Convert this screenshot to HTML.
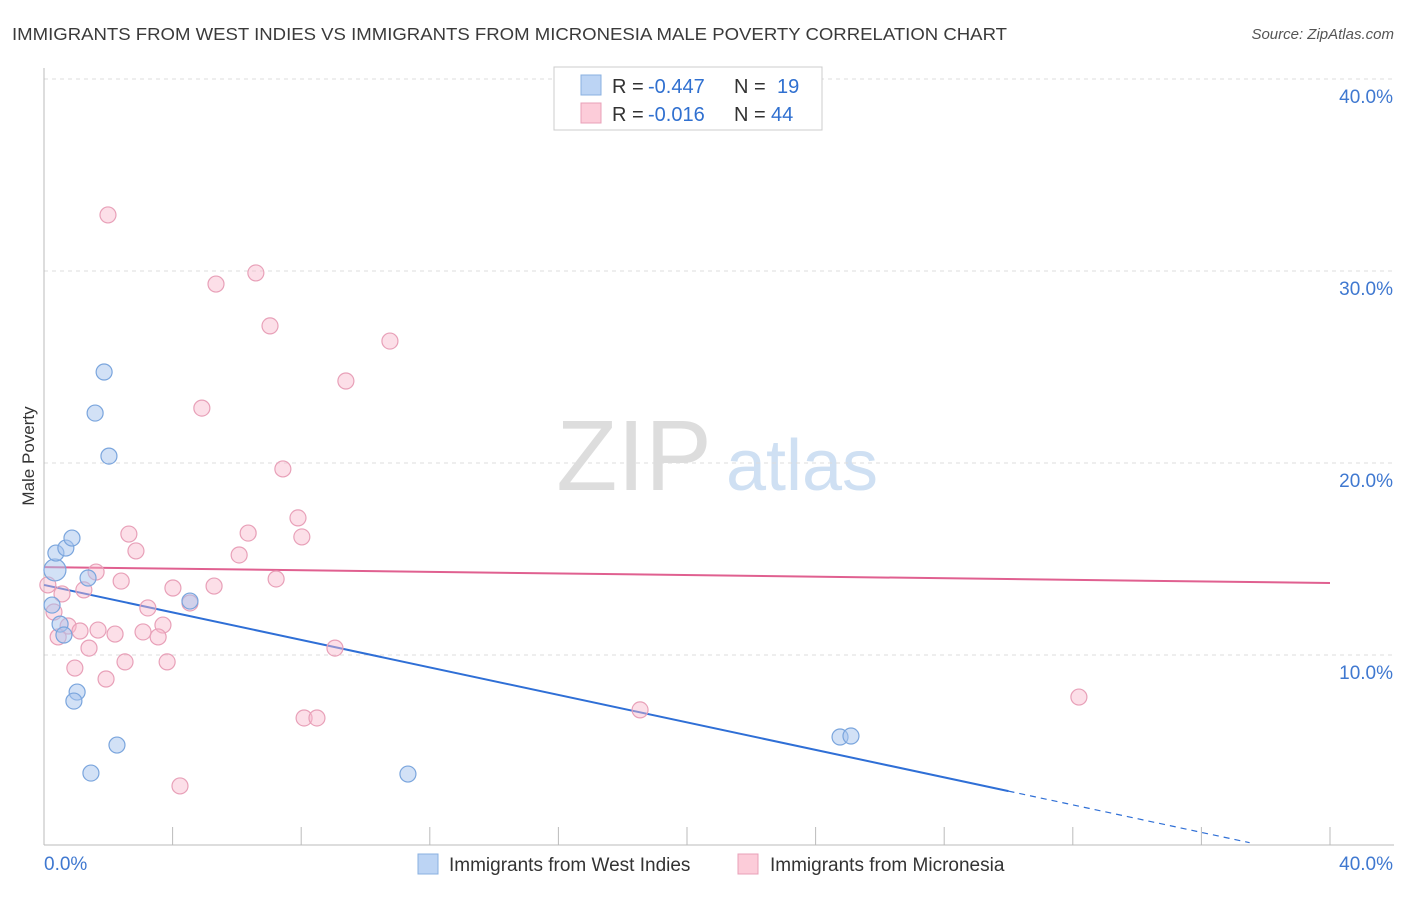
<!DOCTYPE html>
<html><head><meta charset="utf-8"><style>
body{margin:0;background:#fff;font-family:"Liberation Sans",sans-serif;}
svg text{font-family:"Liberation Sans",sans-serif;}
</style></head><body>
<svg id="chart" width="1406" height="892" xmlns="http://www.w3.org/2000/svg">
<text x="12" y="40" font-size="17.5" fill="#3a3a3a" textLength="995" lengthAdjust="spacingAndGlyphs">IMMIGRANTS FROM WEST INDIES VS IMMIGRANTS FROM MICRONESIA MALE POVERTY CORRELATION CHART</text>
<text x="1394" y="39" font-size="15" fill="#555" font-style="italic" text-anchor="end">Source: ZipAtlas.com</text>
<text transform="translate(34,456) rotate(-90)" font-size="17" fill="#333" text-anchor="middle">Male Poverty</text>
<g>
<text x="634" y="490" font-size="100" fill="#ddd" text-anchor="middle" font-family="Liberation Serif">ZIP</text>
<text x="802" y="490" font-size="72" fill="#cfe0f3" text-anchor="middle">atlas</text>
</g>
<g id="grid"></g><g id="axes"></g><g id="trends"></g><g id="points"></g>
<g>
<rect x="554" y="67" width="268" height="63" fill="#fff" stroke="#ccc"/>
<rect x="581" y="75" width="20" height="20" fill="#bcd4f4" stroke="#8ab0e0"/>
<rect x="581" y="103" width="20" height="20" fill="#fcccd9" stroke="#e8a0b8"/>
<text x="612" y="93" font-size="20" fill="#333">R =</text>
<text x="648" y="93" font-size="20" fill="#3070d0">-0.447</text>
<text x="734" y="93" font-size="20" fill="#333">N =</text>
<text x="777" y="93" font-size="20" fill="#3070d0">19</text>
<text x="612" y="121" font-size="20" fill="#333">R =</text>
<text x="648" y="121" font-size="20" fill="#3070d0">-0.016</text>
<text x="734" y="121" font-size="20" fill="#333">N =</text>
<text x="771" y="121" font-size="20" fill="#3070d0">44</text>
</g>
<g>
<rect x="418" y="854" width="20" height="20" fill="#bcd4f4" stroke="#8ab0e0"/>
<text x="449" y="871" font-size="19" fill="#333">Immigrants from West Indies</text>
<rect x="738" y="854" width="20" height="20" fill="#fcccd9" stroke="#e8a0b8"/>
<text x="770" y="871" font-size="19" fill="#333">Immigrants from Micronesia</text>
</g>
</svg>
<script>
const blueX=[0.34,0.37,0.68,0.87,1.37,1.87,1.59,2.02,0.25,0.50,0.62,1.03,0.93,2.27,1.46,4.54,11.32,24.76,25.10];
const blueY=[14.43,15.31,15.57,16.09,14.01,24.74,22.60,20.36,12.60,11.61,11.04,8.07,7.60,5.31,3.85,12.81,3.80,5.73,5.78];
const pinkX=[1.99,5.35,6.59,7.03,10.76,9.39,4.91,7.43,7.90,8.02,2.64,6.35,2.86,6.07,1.62,2.40,1.24,4.01,5.29,7.22,0.12,0.56,4.54,3.23,0.31,3.70,0.75,1.68,1.12,2.21,3.08,3.55,0.44,1.40,9.05,2.52,3.83,0.96,1.93,8.09,8.49,18.54,32.19,4.23];
const pinkY=[32.92,29.32,29.90,27.14,26.35,24.27,22.86,19.69,17.14,16.15,16.30,16.35,15.42,15.21,14.32,13.85,13.39,13.49,13.59,13.96,13.65,13.18,12.71,12.45,12.24,11.56,11.51,11.30,11.25,11.09,11.20,10.94,10.94,10.36,10.36,9.64,9.64,9.32,8.75,6.72,6.72,7.14,7.81,3.18];
const yTicks=[10,20,30,40];
const yTickLabels=["10.0%","20.0%","30.0%","40.0%"];
const blueTrend=[13.65,-0.358];
const pinkTrend=[14.58,-0.0208];
const NS="http://www.w3.org/2000/svg";
const sx=v=>44+v*32.15, sy=v=>847-v*19.2;
function mk(t,a,p){const e=document.createElementNS(NS,t);for(const k in a)e.setAttribute(k,a[k]);p.appendChild(e);return e;}
const grid=document.getElementById('grid'),axes=document.getElementById('axes'),tr=document.getElementById('trends'),pts=document.getElementById('points');
yTicks.forEach((t,i)=>{
 const l=mk('line',{x1:44,x2:1394,y1:sy(t),y2:sy(t),stroke:'#ddd','stroke-dasharray':'4,4'},grid);
 
 
 const tx=mk('text',{x:1393,y:sy(t)+24,'font-size':19,fill:'#3f78d0','text-anchor':'end'},axes);
 tx.textContent=yTickLabels[i];
 
 
});
const ax=mk('line',{x1:44,x2:1394,y1:845,y2:845,stroke:'#bbb'},axes);


const ay=mk('line',{x1:44,x2:44,y1:68,y2:845,stroke:'#bbb'},axes);


for(let i=0;i<=10;i++){
 const tk=mk('line',{x1:sx(i*4),x2:sx(i*4),y1:827,y2:845,stroke:'#bbb'},axes);
 
 
}
const x0=mk('text',{x:44,y:870,'font-size':19,fill:'#3f78d0'},axes);x0.textContent='0.0%';


const x1=mk('text',{x:1393,y:870,'font-size':19,fill:'#3f78d0','text-anchor':'end'},axes);x1.textContent='40.0%';


const f=(t,x)=>t[0]+t[1]*x;
const b1=mk('line',{x1:sx(0),y1:sy(f(blueTrend,0)),x2:sx(30),y2:sy(f(blueTrend,30)),stroke:'#2f6fd6','stroke-width':2},tr);


const b2=mk('line',{x1:sx(30),y1:sy(f(blueTrend,30)),x2:sx(37.5),y2:sy(f(blueTrend,37.5)),stroke:'#2f6fd6','stroke-width':1.2,'stroke-dasharray':'6,5'},tr);


const p1=mk('line',{x1:sx(0),y1:sy(f(pinkTrend,0)),x2:sx(40),y2:sy(f(pinkTrend,40)),stroke:'#e06090','stroke-width':2},tr);


pinkX.forEach((x,i)=>{
 const c=mk('circle',{cx:sx(x),cy:sy(pinkY[i]),r:8,fill:'rgba(248,185,205,0.45)',stroke:'#e8a0b8','stroke-width':1.2},pts);
 
 
});
blueX.forEach((x,i)=>{
 const c=mk('circle',{cx:sx(x),cy:sy(blueY[i]),r:i==0?11:8,fill:'rgba(165,195,238,0.5)',stroke:'#7aa5dd','stroke-width':1.2},pts);
 
 
});
</script>
</body></html>
